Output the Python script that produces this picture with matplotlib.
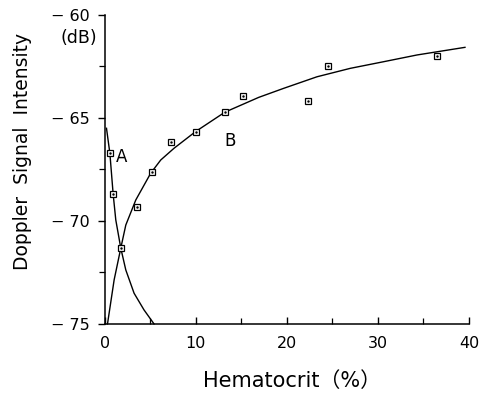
import matplotlib
matplotlib.use("Agg")
import matplotlib.pyplot as plt
from matplotlib.ticker import MultipleLocator

# measured points (hematocrit %, dB)
a_hct = [0.55, 0.91, 1.75]
a_db = [-66.71, -68.69, -71.32]
b_hct = [3.5, 5.15, 7.23, 9.97, 13.2, 15.2, 22.35, 24.5, 36.5]
b_db = [-69.33, -67.64, -66.15, -65.68, -64.72, -63.95, -64.16, -62.48, -61.97]

# fitted curves
curve_a_x = [0.18, 0.55, 0.91, 1.2, 1.75, 2.3, 3.21, 4.3, 5.4]
curve_a_y = [-65.5, -66.71, -68.69, -69.95, -71.32, -72.38, -73.51, -74.32, -75.0]
curve_b_x = [0.29, 1.02, 1.75, 2.3, 3.4, 5.04, 6.14, 7.6, 9.97, 13.18,
             16.9, 19.65, 23.3, 26.96, 30.6, 34.3, 39.56]
curve_b_y = [-75.0, -72.86, -71.32, -70.2, -68.98, -67.68, -67.04, -66.47, -65.66,
             -64.72, -64.0, -63.56, -63.0, -62.59, -62.27, -61.94, -61.57]

y_ticks = [-75, -70, -65, -60]
y_ticklabels = ["\u2212 75", "\u2212 70", "\u2212 65", "\u2212 60"]
x_ticks = [0, 10, 20, 30, 40]

plt.rcParams['font.family'] = ['DejaVu Sans', 'Noto Sans CJK JP']

fig = plt.figure(figsize=(4.81, 3.95), dpi=100)
ax = fig.add_axes([0.218, 0.180, 0.757, 0.782])

ax.plot(curve_a_x, curve_a_y, color='black', lw=1.0, clip_on=False)
ax.plot(curve_b_x, curve_b_y, color='black', lw=1.0, clip_on=False)

for xs, ys in [(a_hct, a_db), (b_hct, b_db)]:
    ax.plot(xs, ys, 's', ms=4.8, mfc='white', mec='black', mew=0.9, clip_on=False, zorder=3)
    ax.plot(xs, ys, '.', ms=1.5, color='black', zorder=4)

letter_font = ['Liberation Sans Narrow', 'DejaVu Sans']
ax.text(1.86, -66.9, "A", fontsize=12, family=letter_font, ha='center', va='center')
ax.text(13.8, -66.1, "B", fontsize=12, family=letter_font, ha='center', va='center')

ax.set_xlim(0, 40)
ax.set_ylim(-75, -60)
ax.set_xticks(x_ticks)
ax.xaxis.set_minor_locator(MultipleLocator(5))
ax.set_yticks(y_ticks)
ax.set_yticklabels(y_ticklabels)
ax.yaxis.set_minor_locator(MultipleLocator(2.5))

ax.tick_params(axis='x', which='both', direction='in', labelsize=11.5, pad=9)
ax.tick_params(axis='x', which='major', length=5, width=1.0)
ax.tick_params(axis='x', which='minor', length=4, width=0.9)
ax.tick_params(axis='y', which='both', direction='out', labelsize=11.5, pad=6)
ax.tick_params(axis='y', which='major', length=5, width=1.0)
ax.tick_params(axis='y', which='minor', length=4, width=0.9)

ax.spines['top'].set_visible(False)
ax.spines['right'].set_visible(False)
ax.spines['left'].set_linewidth(1.1)
ax.spines['bottom'].set_linewidth(1.1)

ax.text(-0.022, 0.925, "(dB)", transform=ax.transAxes, fontsize=12.5, ha='right', va='center')

ax.set_xlabel("Hematocrit\uff08%\uff09", fontsize=15)
ax.xaxis.set_label_coords(0.514, -0.152)
ax.set_ylabel("Doppler  Signal  Intensity", fontsize=13.5)
ax.yaxis.set_label_coords(-0.2, 0.557)

fig.savefig("out.png", dpi=100)
